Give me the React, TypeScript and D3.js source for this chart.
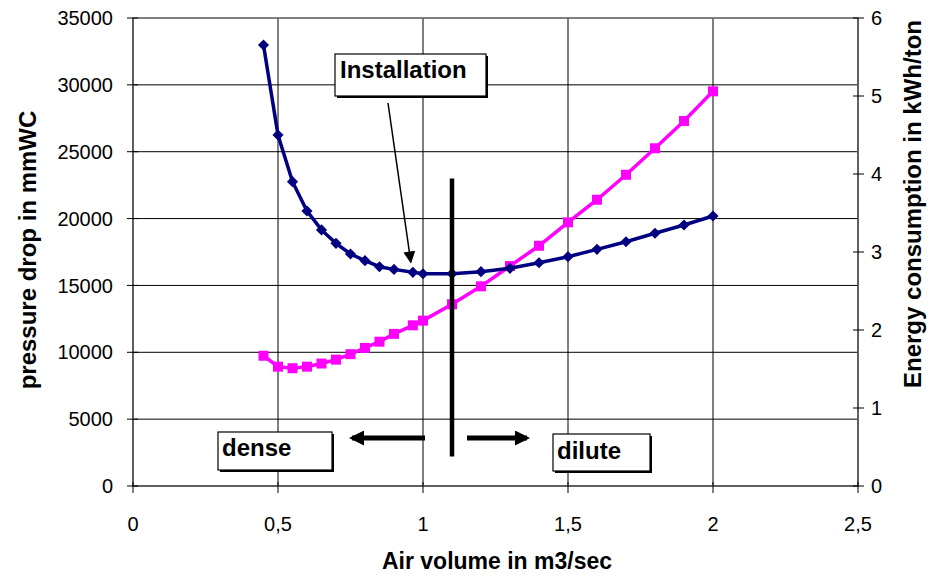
import React from 'react';
import * as d3 from 'd3';

const airVolume = [0.45, 0.5, 0.55, 0.6, 0.65, 0.7, 0.75, 0.8, 0.85, 0.9, 0.965, 1.0, 1.1, 1.2, 1.3, 1.4, 1.5, 1.6, 1.7, 1.8, 1.9, 2.0];
const pressureDrop = [32980, 26250, 22760, 20570, 19150, 18150, 17350, 16850, 16400, 16200, 15980, 15870, 15880, 16030, 16280, 16700, 17150, 17700, 18270, 18900, 19520, 20190];
const energyUse = [1.67, 1.53, 1.51, 1.53, 1.57, 1.62, 1.69, 1.77, 1.85, 1.95, 2.06, 2.12, 2.33, 2.56, 2.82, 3.08, 3.38, 3.67, 3.99, 4.33, 4.68, 5.06];

const xTickValues = [0, 0.5, 1, 1.5, 2, 2.5];
const xTickLabels = ['0', '0,5', '1', '1,5', '2', '2,5'];
const pressureTicks = [0, 5000, 10000, 15000, 20000, 25000, 30000, 35000];
const energyTicks = [0, 1, 2, 3, 4, 5, 6];

const xTitle = 'Air volume in m3/sec';
const leftTitle = 'pressure drop in mmWC';
const rightTitle = 'Energy consumption in kWh/ton';
const installLabel = 'Installation';
const denseLabel = 'dense';
const diluteLabel = 'dilute';
const boundaryX = 1.1;

const W = 932, H = 581;
const M = { left: 133, right: 858, top: 18, bottom: 486 };
const FONT = '"Liberation Sans", Arial, sans-serif';

export default function App() {
  const x = d3.scaleLinear().domain([0, 2.5]).range([M.left, M.right]);
  const yL = d3.scaleLinear().domain([0, 35000]).range([M.bottom, M.top]);
  const yR = d3.scaleLinear().domain([0, 6]).range([M.bottom, M.top]);

  const pressurePts = airVolume.map((v, i) => [x(v), yL(pressureDrop[i])] as [number, number]);
  const energyPts = airVolume.map((v, i) => [x(v), yR(energyUse[i])] as [number, number]);
  const line = d3.line();
  const diamond = d3.symbol().type(d3.symbolSquare).size(62)();
  const square = d3.symbol().type(d3.symbolSquare).size(100)();

  const bx = x(boundaryX);

  return (
    <svg width={W} height={H} style={{ position: 'absolute', left: 0, top: 0, background: '#fff' }} fontFamily={FONT}>
      <defs>
        <marker id="headThin" viewBox="0 0 10 10" refX="9" refY="5" markerWidth="13" markerHeight="12" markerUnits="userSpaceOnUse" orient="auto">
          <path d="M0,0 L10,5 L0,10 Z" fill="#000" />
        </marker>
        <marker id="headThick" viewBox="0 0 10 10" refX="8" refY="5" markerWidth="17" markerHeight="15" markerUnits="userSpaceOnUse" orient="auto">
          <path d="M0,0 L10,5 L0,10 Z" fill="#000" />
        </marker>
      </defs>
      <rect x={0} y={0} width={W} height={H} fill="#fff" />
      {/* gridlines */}
      {pressureTicks.map(t => (
        <line key={'h' + t} x1={M.left} x2={M.right} y1={yL(t)} y2={yL(t)} stroke="#000" strokeWidth={1} />
      ))}
      {xTickValues.map(t => (
        <line key={'v' + t} x1={x(t)} x2={x(t)} y1={M.top} y2={M.bottom} stroke="#000" strokeWidth={1} />
      ))}
      {/* plot border */}
      <rect x={M.left} y={M.top} width={M.right - M.left} height={M.bottom - M.top} fill="none" stroke="#808080" strokeWidth={1.5} />
      {/* axes */}
      <line x1={M.left} x2={M.left} y1={M.top} y2={M.bottom} stroke="#555" strokeWidth={1.5} />
      <line x1={M.right} x2={M.right} y1={M.top} y2={M.bottom} stroke="#555" strokeWidth={1.5} />
      <line x1={M.left} x2={M.right} y1={M.bottom} y2={M.bottom} stroke="#555" strokeWidth={1.5} />
      {pressureTicks.map(t => (
        <g key={'lt' + t}>
          <line x1={M.left - 6} x2={M.left + 5} y1={yL(t)} y2={yL(t)} stroke="#000" />
          <text x={113} y={yL(t)} dy="0.36em" textAnchor="end" fontSize={20}>{t}</text>
        </g>
      ))}
      {energyTicks.map(t => (
        <g key={'rt' + t}>
          <line x1={M.right - 5} x2={M.right + 6} y1={yR(t)} y2={yR(t)} stroke="#000" />
          <text x={871} y={yR(t)} dy="0.36em" textAnchor="start" fontSize={20}>{t}</text>
        </g>
      ))}
      {xTickValues.map((t, i) => (
        <g key={'xt' + t}>
          <line x1={x(t)} x2={x(t)} y1={M.bottom - 4} y2={M.bottom + 7} stroke="#000" />
          <text x={x(t)} y={531} textAnchor="middle" fontSize={20}>{xTickLabels[i]}</text>
        </g>
      ))}
      {/* titles */}
      <text x={497} y={569} textAnchor="middle" fontSize={23} fontWeight="bold">{xTitle}</text>
      <text transform={`translate(36,250) rotate(-90)`} textAnchor="middle" fontSize={24} fontWeight="bold">{leftTitle}</text>
      <text transform={`translate(921,204) rotate(-90)`} textAnchor="middle" fontSize={24} fontWeight="bold">{rightTitle}</text>

      {/* series */}
      <path d={line(energyPts) || ''} fill="none" stroke="#FF00FF" strokeWidth={3.5} />
      {energyPts.map((p, i) => (
        <path key={'sq' + i} d={square || ''} transform={`translate(${p[0]},${p[1]})`} fill="#FF00FF" />
      ))}
      <path d={line(pressurePts) || ''} fill="none" stroke="#000080" strokeWidth={3.5} />
      {pressurePts.map((p, i) => (
        <path key={'dm' + i} d={diamond || ''} transform={`translate(${p[0]},${p[1]}) rotate(45)`} fill="#000080" />
      ))}

      {/* boundary line */}
      <line x1={bx} x2={bx} y1={yL(23000)} y2={yL(2200)} stroke="#000" strokeWidth={4.5} />
      {/* dense / dilute arrows */}
      <line x1={bx - 27} x2={bx - 100} y1={438} y2={438} stroke="#000" strokeWidth={5} markerEnd="url(#headThick)" />
      <line x1={bx + 15} x2={bx + 75} y1={438} y2={438} stroke="#000" strokeWidth={5} markerEnd="url(#headThick)" />

      {/* Installation label */}
      <rect x={337} y={56} width={151} height={42} fill="#000" />
      <rect x={335} y={54} width={151} height={42} fill="#fff" stroke="#000" strokeWidth={1.2} />
      <text x={340} y={78} fontSize={24} fontWeight="bold">{installLabel}</text>
      <line x1={388} y1={103} x2={x(0.965) - 2} y2={yL(15980) - 10} stroke="#000" strokeWidth={1.5} markerEnd="url(#headThin)" />

      {/* dense label */}
      <rect x={220} y={434} width={114} height={38} fill="#000" />
      <rect x={218} y={432} width={114} height={38} fill="#fff" stroke="#000" strokeWidth={1.2} />
      <text x={222} y={456} fontSize={24} fontWeight="bold">{denseLabel}</text>

      {/* dilute label */}
      <rect x={555} y={436} width={97} height={37} fill="#000" />
      <rect x={553} y={434} width={97} height={37} fill="#fff" stroke="#000" strokeWidth={1.2} />
      <text x={557} y={459} fontSize={24} fontWeight="bold">{diluteLabel}</text>
    </svg>
  );
}
